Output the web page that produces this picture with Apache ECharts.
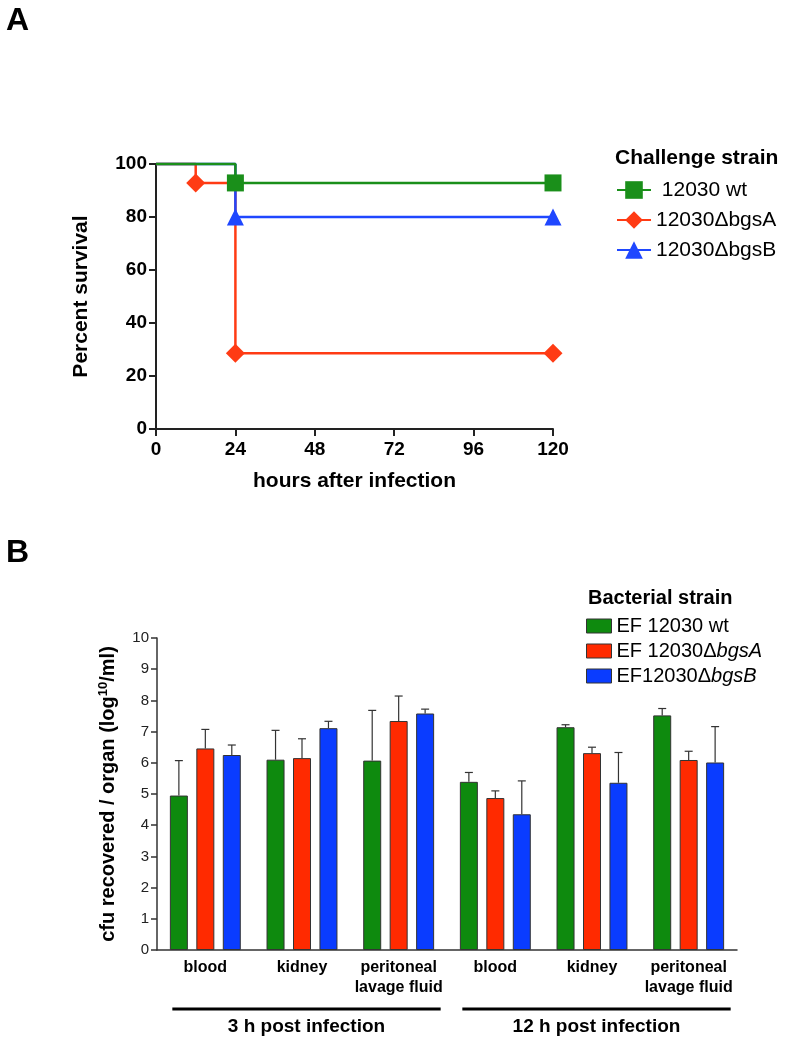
<!DOCTYPE html>
<html>
<head>
<meta charset="utf-8">
<script src="https://cdn.jsdelivr.net/npm/echarts@6/dist/echarts.min.js"></script>
<style>
html,body{margin:0;padding:0;background:#fff;}
#chart{width:792px;height:1042px;}
</style>
</head>
<body>
<div id="chart"></div>
<script>
// ---------- Panel A data (Kaplan-Meier survival) ----------
const seriesNamesA = [' 12030 wt', '12030\u0394bgsA', '12030\u0394bgsB'];
const survWt   = [[0, 100], [24, 92.86], [120, 92.86]];
const survBgsA = [[0, 100], [12, 92.86], [24, 28.57], [120, 28.57]];
const survBgsB = [[0, 100], [24, 80], [120, 80]];
const hoursTicks = [0, 24, 48, 72, 96, 120];

// ---------- Panel B data (cfu) ----------
const categoriesB = ['blood', 'kidney', 'peritoneal\nlavage fluid', 'blood', 'kidney', 'peritoneal\nlavage fluid'];
const groupLabelsB = ['3 h post infection', '12 h post infection'];
const seriesNamesB = ['EF 12030 wt', 'EF 12030\u0394bgsA', 'EF12030\u0394bgsB'];
const meanWt   = [4.95, 6.10, 6.07, 5.39, 7.14, 7.52];
const meanBgsA = [6.46, 6.15, 7.34, 4.87, 6.31, 6.09];
const meanBgsB = [6.25, 7.11, 7.58, 4.35, 5.36, 6.01];
const errWt    = [1.12, 0.94, 1.61, 0.30, 0.08, 0.22];
const errBgsA  = [0.61, 0.62, 0.80, 0.23, 0.19, 0.28];
const errBgsB  = [0.32, 0.22, 0.14, 1.07, 0.97, 1.15];

const FONT = 'Liberation Sans, Arial, sans-serif';
const lineColors = ['#1a8f1a', '#ff3b14', '#1f47ff'];
const barColors = ['#0e8a0e', '#ff2a00', '#0a3cff'];

const chart = echarts.init(document.getElementById('chart'), null, {renderer: 'canvas'});

function survData(arr) {
  return arr.map((p, i) => i === 0 ? {value: p, symbol: 'none'} : p);
}

const BAR_W = 18;
const BAR_GAP = 0.47;
function errSeries(k, means, errs) {
  return {
    type: 'custom',
    xAxisIndex: 1, yAxisIndex: 1,
    z: 1,
    silent: true,
    data: means.map((m, i) => [i, m, errs[i]]),
    renderItem: function (params, api) {
      const c = api.value(0), m = api.value(1), e = api.value(2);
      const p0 = api.coord([c, m]);
      const p1 = api.coord([c, m + e]);
      const x = p0[0] + (k - 1) * (BAR_W * (1 + BAR_GAP));
      return {
        type: 'group',
        children: [
          {type: 'line', shape: {x1: x, y1: p0[1], x2: x, y2: p1[1]}, style: {stroke: '#333', lineWidth: 1.2}},
          {type: 'line', shape: {x1: x - 4, y1: p1[1], x2: x + 4, y2: p1[1]}, style: {stroke: '#333', lineWidth: 1.2}}
        ]
      };
    }
  };
}

const option = {
  backgroundColor: '#fff',
  animation: false,
  textStyle: {fontFamily: FONT},
  title: [
    {text: 'A', left: 6, top: 5, padding: 0, textStyle: {fontFamily: FONT, fontSize: 32, fontWeight: 'bold', color: '#000'}},
    {text: 'B', left: 6, top: 537, padding: 0, textStyle: {fontFamily: FONT, fontSize: 32, fontWeight: 'bold', color: '#000'}},
    {text: 'Challenge strain', left: 615, top: 148, padding: 0, textStyle: {fontFamily: FONT, fontSize: 21, fontWeight: 'bold', color: '#000'}},
    {text: 'Bacterial strain', left: 588, top: 588, padding: 0, textStyle: {fontFamily: FONT, fontSize: 20, fontWeight: 'bold', color: '#000'}}
  ],
  legend: [
    {
      data: seriesNamesA,
      orient: 'vertical',
      left: 616, top: 178, padding: 0,
      itemWidth: 34, itemHeight: 22,
      itemGap: 6,
      itemTextGap: 22,
      textStyle: {fontFamily: FONT, fontSize: 21, color: '#000', lineHeight: 24},
      selectedMode: false
    },
    {
      data: seriesNamesB,
      orient: 'vertical',
      left: 586, top: 614, padding: 0,
      icon: 'rect',
      itemWidth: 25, itemHeight: 14,
      itemGap: 1,
      itemTextGap: 16,
      itemStyle: {borderColor: '#333', borderWidth: 1},
      textStyle: {fontFamily: FONT, fontSize: 20, color: '#000', lineHeight: 24,
        rich: {i: {fontFamily: FONT, fontSize: 20, fontStyle: 'italic', color: '#000'}}},
      formatter: function (name) { return name.replace(/(bgs[AB])/, '{i|$1}'); },
      selectedMode: false
    }
  ],
  grid: [
    {left: 156, top: 164, width: 397, height: 265, containLabel: false},
    {left: 157, top: 638, width: 580, height: 312, containLabel: false}
  ],
  xAxis: [
    {
      gridIndex: 0, type: 'value', min: 0, max: 120, interval: 24,
      name: 'hours after infection', nameLocation: 'middle', nameGap: 42,
      nameTextStyle: {fontFamily: FONT, fontSize: 21, fontWeight: 'bold', color: '#000'},
      axisLine: {show: true, lineStyle: {color: '#222', width: 2}},
      axisTick: {show: true, length: 7, lineStyle: {color: '#222', width: 2}},
      axisLabel: {margin: 11, fontFamily: FONT, fontSize: 19, fontWeight: 'bold', color: '#000',
        customValues: hoursTicks},
      splitLine: {show: false}
    },
    {
      gridIndex: 1, type: 'category', data: categoriesB,
      axisLine: {show: true, lineStyle: {color: '#333', width: 1.5}},
      axisTick: {show: false},
      axisLabel: {margin: 8, fontFamily: FONT, fontSize: 16, fontWeight: 'bold', color: '#000', lineHeight: 20, interval: 0},
      splitLine: {show: false}
    }
  ],
  yAxis: [
    {
      gridIndex: 0, type: 'value', min: 0, max: 100, interval: 20,
      name: 'Percent survival', nameLocation: 'middle', nameGap: 64,
      nameTextStyle: {fontFamily: FONT, fontSize: 21, fontWeight: 'bold', color: '#000'},
      axisLine: {show: true, lineStyle: {color: '#222', width: 2}},
      axisTick: {show: true, length: 7, lineStyle: {color: '#222', width: 2}},
      axisLabel: {margin: 9, fontFamily: FONT, fontSize: 19, fontWeight: 'bold', color: '#000'},
      splitLine: {show: false}
    },
    {
      gridIndex: 1, type: 'value', min: 0, max: 10, interval: 1,
      name: 'cfu recovered / organ (log{s|10}/ml)', nameLocation: 'middle', nameGap: 37,
      nameTextStyle: {fontFamily: FONT, fontSize: 20, fontWeight: 'bold', color: '#000',
        rich: {s: {fontFamily: FONT, fontSize: 13, fontWeight: 'bold', color: '#000', padding: [0, 0, 10, 0]}}},
      axisLine: {show: true, lineStyle: {color: '#333', width: 1.5}},
      axisTick: {show: true, length: 6, lineStyle: {color: '#333', width: 1.5}},
      axisLabel: {margin: 8, fontFamily: FONT, fontSize: 15, color: '#222'},
      splitLine: {show: false}
    }
  ],
  series: [
    // order: red, blue, green so green draws on top
    {
      name: seriesNamesA[1], type: 'line', xAxisIndex: 0, yAxisIndex: 0,
      data: survData(survBgsA), step: 'end', clip: false,
      symbol: 'diamond', symbolSize: 19, showAllSymbol: true,
      itemStyle: {color: lineColors[1]}, lineStyle: {color: lineColors[1], width: 2.5}, z: 2
    },
    {
      name: seriesNamesA[2], type: 'line', xAxisIndex: 0, yAxisIndex: 0,
      data: survData(survBgsB), step: 'end', clip: false,
      symbol: 'triangle', symbolSize: 17, showAllSymbol: true,
      itemStyle: {color: lineColors[2]}, lineStyle: {color: lineColors[2], width: 2.5}, z: 3
    },
    {
      name: seriesNamesA[0], type: 'line', xAxisIndex: 0, yAxisIndex: 0,
      data: survData(survWt), step: 'end', clip: false,
      symbol: 'rect', symbolSize: 17, showAllSymbol: true,
      itemStyle: {color: lineColors[0]}, lineStyle: {color: lineColors[0], width: 2.5}, z: 4
    },
    {
      name: seriesNamesB[0], type: 'bar', xAxisIndex: 1, yAxisIndex: 1, data: meanWt,
      barWidth: BAR_W, barGap: (BAR_GAP * 100) + '%', z: 2,
      itemStyle: {color: barColors[0], borderColor: '#333', borderWidth: 1}
    },
    {
      name: seriesNamesB[1], type: 'bar', xAxisIndex: 1, yAxisIndex: 1, data: meanBgsA,
      barWidth: BAR_W, barGap: (BAR_GAP * 100) + '%', z: 2,
      itemStyle: {color: barColors[1], borderColor: '#333', borderWidth: 1}
    },
    {
      name: seriesNamesB[2], type: 'bar', xAxisIndex: 1, yAxisIndex: 1, data: meanBgsB,
      barWidth: BAR_W, barGap: (BAR_GAP * 100) + '%', z: 2,
      itemStyle: {color: barColors[2], borderColor: '#333', borderWidth: 1}
    },
    errSeries(0, meanWt, errWt),
    errSeries(1, meanBgsA, errBgsA),
    errSeries(2, meanBgsB, errBgsB)
  ]
};

chart.setOption(option);

// group brackets beneath the categories of panel B
function catX(i) { return chart.convertToPixel({xAxisIndex: 1}, i); }
const groups = [[0, 2], [3, 5]];
const graphics = [];
groups.forEach((g, gi) => {
  const x1 = catX(g[0]) - 33;
  const x2 = catX(g[1]) + 42;
  graphics.push({type: 'line', shape: {x1: x1, y1: 1009, x2: x2, y2: 1009}, style: {stroke: '#000', lineWidth: 3}});
  graphics.push({type: 'text', x: (x1 + x2) / 2, y: 1027,
    style: {text: groupLabelsB[gi], font: 'bold 19px ' + FONT, fill: '#000', align: 'center', verticalAlign: 'middle'}});
});
chart.setOption({graphic: graphics});
</script>
</body>
</html>
